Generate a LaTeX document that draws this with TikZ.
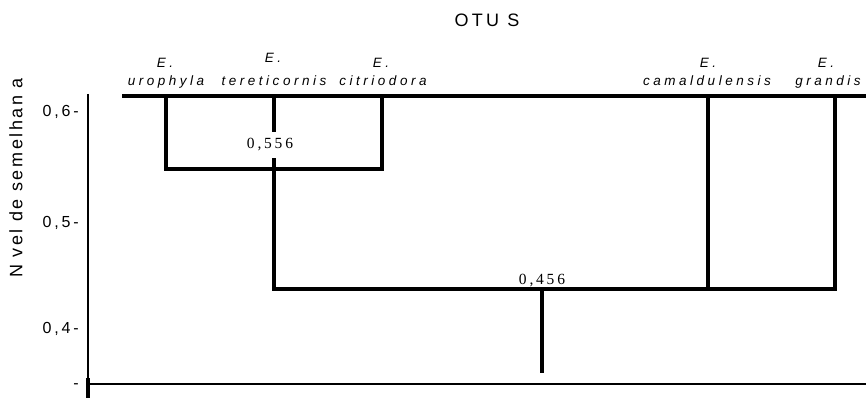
\documentclass[tikz,border=0pt]{standalone}
\usepackage{fontspec}
\setmainfont{Liberation Serif}
\newfontfamily\otufont[LetterSpace=26]{Liberation Sans}
\newfontfamily\eixofont[LetterSpace=18]{Liberation Sans}
\newfontfamily\rotfont[LetterSpace=14]{Liberation Sans}
\newfontfamily\valfont[LetterSpace=18]{Liberation Serif}
\usetikzlibrary{positioning}
\tikzset{>=stealth}
\tikzset{
  ramo/.style={line width=3.1pt},
  eixo/.style={line width=2.2pt},
  especie/.style={font=\otufont\itshape\fontsize{13.5}{15}\selectfont, anchor=base, inner sep=0pt},
  nivel/.style={font=\eixofont\fontsize{16}{17}\selectfont, anchor=base east, inner sep=0pt},
  similar/.style={font=\valfont\fontsize{15.5}{16}\selectfont, inner sep=1pt}
}
\begin{document}
\begin{tikzpicture}[x=1pt, y=-1pt]
        \useasboundingbox (0,0) rectangle (866,398);
        \node[font=\eixofont\fontsize{18}{19}\selectfont] (titulo) at (487,20) {OTU S};
        \node[font=\rotfont\fontsize{18}{19}\selectfont, rotate=90] (eixo-y) at (16,178) {N vel de semelhan a};

        \node[especie] (uro-e) at (165,68) {E.};
        \node[especie] (uro) at (166,85.5) {urophyla};
        \node[especie] (ter-e) at (273,63) {E.};
        \node[especie] (ter) at (274,85.5) {tereticornis};
        \node[especie] (cit-e) at (381,68) {E.};
        \node[especie] (cit) at (383,85.5) {citriodora};
        \node[especie] (cam-e) at (708,68) {E.};
        \node[especie] (cam) at (707,85.5) {camaldulensis};
        \node[especie] (gra-e) at (826,68) {E.};
        \node[especie] (gra) at (828,85.5) {grandis};

        \node[nivel] (n06) at (79,117) {0,6-};
        \node[nivel] (n05) at (79,227) {0,5-};
        \node[nivel] (n04) at (79,333) {0,4-};
        \node[nivel] (n03) at (79,388) {-};

        \coordinate (eixo-topo) at (88,94);
        \coordinate (eixo-base) at (88,398);
        \coordinate (eixo-canto) at (88,378);
        \coordinate (base-esq) at (88,384);
        \coordinate (base-dir) at (866,384);
        \coordinate (topo-esq) at (122,96);
        \coordinate (topo-dir) at (866,96);

        \coordinate (uro-t) at (166,96);
        \coordinate (ter-t) at (274,96);
        \coordinate (cit-t) at (382,96);
        \coordinate (cam-t) at (708,96);
        \coordinate (gra-t) at (835,96);
        \coordinate (g1-esq) at (166,169);
        \coordinate (g1-dir) at (382,169);
        \coordinate (g2-esq) at (274,289);
        \coordinate (g2-dir) at (835,289);
        \coordinate (cam-b) at (708,289);
        \coordinate (g2) at (542,289);
        \coordinate (raiz) at (542,373);

        \draw[eixo] (eixo-topo) -- (eixo-base);
        \draw[line width=4pt] (eixo-canto) -- (eixo-base);
        \draw[line width=2.6pt] (base-esq) -- (base-dir);

        \draw[ramo] (topo-esq) -- (topo-dir);
        \draw[ramo] (uro-t) -- (g1-esq) -- (g1-dir) -- (cit-t);
        \draw[ramo] (ter-t) -- (g2-esq) -- (g2-dir) -- (gra-t);
        \draw[ramo] (cam-t) -- (cam-b);
        \draw[ramo] (g2) -- (raiz);

        \node[similar, fill=white, inner ysep=7pt] (v556) at (270,145) {0,556};
        \node[similar, anchor=base] (v456) at (542,284) {0,456};
\end{tikzpicture}
\end{document}
